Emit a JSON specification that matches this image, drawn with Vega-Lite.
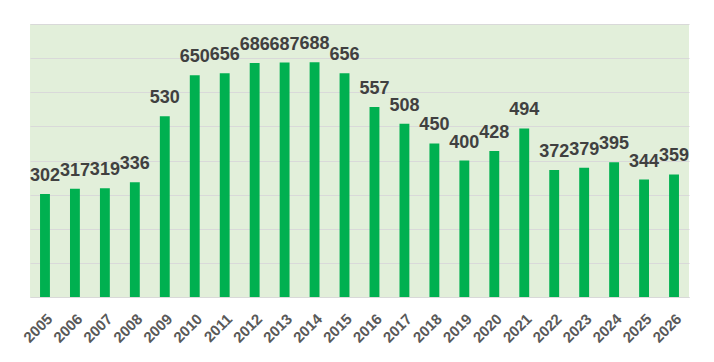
{
  "$schema": "https://vega.github.io/schema/vega-lite/v6.json",
  "width": 659,
  "height": 273,
  "autosize": {"type": "none"},
  "padding": {"left": 30, "top": 24, "right": 25, "bottom": 65},
  "background": "white",
  "config": {
    "view": {"fill": "#E2EFDA", "stroke": null},
    "font": "Liberation Sans"
  },
  "data": {
    "values": [
      {"year": "2005", "value": 302},
      {"year": "2006", "value": 317},
      {"year": "2007", "value": 319},
      {"year": "2008", "value": 336},
      {"year": "2009", "value": 530},
      {"year": "2010", "value": 650},
      {"year": "2011", "value": 656},
      {"year": "2012", "value": 686},
      {"year": "2013", "value": 687},
      {"year": "2014", "value": 688},
      {"year": "2015", "value": 656},
      {"year": "2016", "value": 557},
      {"year": "2017", "value": 508},
      {"year": "2018", "value": 450},
      {"year": "2019", "value": 400},
      {"year": "2020", "value": 428},
      {"year": "2021", "value": 494},
      {"year": "2022", "value": 372},
      {"year": "2023", "value": 379},
      {"year": "2024", "value": 395},
      {"year": "2025", "value": 344},
      {"year": "2026", "value": 359}
    ]
  },
  "encoding": {
    "x": {
      "field": "year",
      "type": "ordinal",
      "scale": {"paddingInner": 0.67, "paddingOuter": 0.335},
      "axis": {
        "title": null,
        "labelAngle": -45,
        "labelFont": "Liberation Sans",
        "labelFontWeight": "bold",
        "labelFontSize": 15,
        "labelColor": "#595959",
        "labelPadding": 14,
        "ticks": false,
        "domainColor": "#D9D9D9",
        "domainWidth": 1
      }
    },
    "y": {
      "field": "value",
      "type": "quantitative",
      "scale": {"domain": [0, 800], "nice": false},
      "axis": {
        "title": null,
        "labels": false,
        "ticks": false,
        "domain": false,
        "values": [0, 100, 200, 300, 400, 500, 600, 700, 800],
        "gridColor": "#D9D9D9",
        "gridWidth": 1
      }
    }
  },
  "layer": [
    {"mark": {"type": "bar", "color": "#00B050"}},
    {
      "mark": {
        "type": "text",
        "baseline": "alphabetic",
        "dy": -13,
        "fontSize": 18,
        "fontWeight": "bold",
        "color": "#404040",
        "font": "Liberation Sans"
      },
      "encoding": {"text": {"field": "value", "type": "quantitative"}}
    }
  ]
}
